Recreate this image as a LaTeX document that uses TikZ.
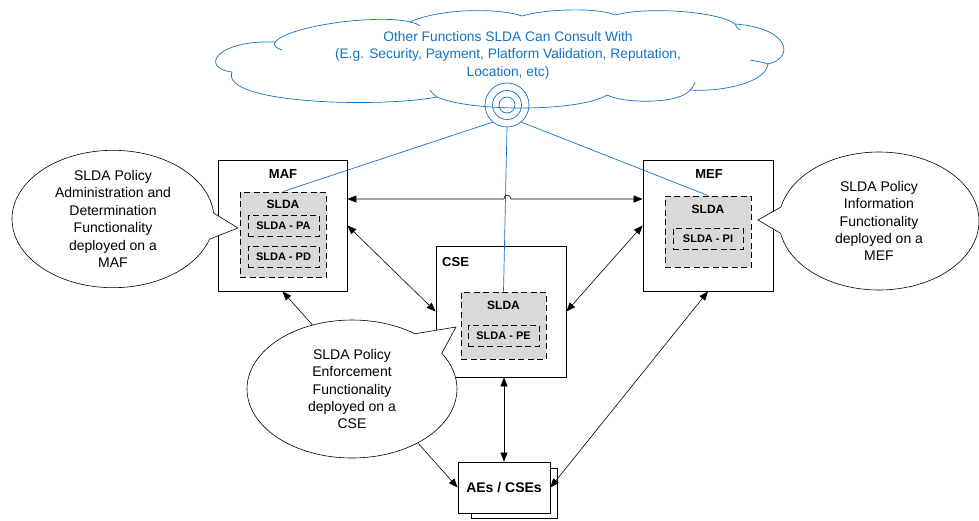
\documentclass[tikz,border=0pt]{standalone}
\usepackage{fontspec}
\setmainfont{Liberation Sans}
\usetikzlibrary{arrows.meta,shapes.callouts,calc}
\definecolor{bluec}{RGB}{20,114,196}
\definecolor{sldagray}{RGB}{217,217,217}
\begin{document}
\begin{tikzpicture}[x=1pt,y=-1pt,
  box/.style={draw, fill=white, line width=0.8pt, inner sep=0pt},
  sldabox/.style={draw, fill=sldagray, line width=0.9pt, dash pattern=on 6pt off 3.5pt, inner sep=0pt},
  lbl/.style={font=\fontsize{13}{15}\bfseries\selectfont, inner sep=0pt},
  slbl/.style={font=\fontsize{12}{14}\bfseries\selectfont, inner sep=0pt},
  sublbl/.style={font=\fontsize{11}{12}\bfseries\selectfont},
  conn/.style={{Triangle[length=9pt,width=7pt]}-{Triangle[length=9pt,width=7pt]}, line width=0.6pt},
  bl/.style={draw=bluec, line width=0.7pt},
  callout/.style={ellipse callout, draw, fill=white, line width=0.6pt, align=center,
    inner sep=0pt, callout pointer arc=22, font=\fontsize{14}{17.4}\selectfont},
  ring/.style={circle, draw=bluec, line width=0.7pt, inner sep=0pt}
]
\useasboundingbox (0,0) rectangle (979,520);

% cloud
\draw[bl] (232,72) .. controls (200,68) and (215,40) .. (275,42)
  .. controls (290,25) and (380,14) .. (410,22)
  .. controls (440,8) and (500,8) .. (522,16)
  .. controls (550,8) and (600,8) .. (615,15)
  .. controls (650,6) and (720,12) .. (735,24)
  .. controls (790,28) and (795,58) .. (768,64)
  .. controls (765,85) and (715,92) .. (690,90)
  .. controls (680,104) and (625,104) .. (607,95)
  .. controls (580,112) and (470,112) .. (437,97)
  .. controls (380,108) and (220,104) .. (232,72) -- cycle;
\draw[bl] (275,42) .. controls (273,45) and (276,48) .. (282,50);
\draw[bl] (410,22) .. controls (415,23) and (418,24) .. (420,26);
\draw[bl] (735,24) .. controls (736,27) and (738,29) .. (740,30);
\draw[bl] (768,64) .. controls (762,62) and (755,61) .. (750,60);
\draw[bl] (690,90) .. controls (693,87) and (695,84) .. (695,82);
\draw[bl] (437,97) .. controls (433,94) and (431,92) .. (430,90);
\node[text=bluec, align=center, font=\fontsize{13.8}{17.5}\selectfont] (cloudtxt) at (508,55)
  {Other Functions SLDA Can Consult With\\(E.g. Security, Payment, Platform Validation, Reputation,\\Location, etc)};
\node[ring, minimum size=44pt] (t) at (507,105) {};
\node[ring, minimum size=29pt] (t2) at (507,105) {};
\node[ring, minimum size=16pt] (t3) at (507,105) {};

% main boxes
\node[box, minimum width=129pt, minimum height=131pt] (maf) at (282.5,225.5) {};
\node[box, minimum width=130pt, minimum height=131pt] (mef) at (708,225.5) {};
\node[box, minimum width=130pt, minimum height=131pt] (cse) at (501,311.5) {};

\node[lbl] (maflbl) at (283,174) {MAF};
\node[lbl] (meflbl) at (709,174) {MEF};
\node[lbl, anchor=west] (cselbl) at (442,262) {CSE};

% SLDA boxes
\node[sldabox, minimum width=86pt, minimum height=85pt] (mafslda) at (283,234.5) {};
\node[slbl] (mafsldalbl) at (283,204) {SLDA};
\node[sldabox, minimum width=71pt, minimum height=21pt] (pa) at (283.5,225.5) {};
\node[sublbl] (palbl) at (283.5,225.5) {SLDA - PA};
\node[sldabox, minimum width=71pt, minimum height=21pt] (pd) at (283.5,256.5) {};
\node[sublbl] (pdlbl) at (283.5,256.5) {SLDA - PD};

\node[sldabox, minimum width=85pt, minimum height=67pt] (cseslda) at (503.5,325.5) {};
\node[slbl] (csesldalbl) at (503.5,305) {SLDA};
\node[sldabox, minimum width=71pt, minimum height=21pt] (pe) at (503.5,335.5) {};
\node[sublbl] (pelbl) at (503.5,335.5) {SLDA - PE};

\node[sldabox, minimum width=86pt, minimum height=71pt] (mefslda) at (708,231.5) {};
\node[slbl] (mefsldalbl) at (708,209) {SLDA};
\node[sldabox, minimum width=70pt, minimum height=21pt] (pi) at (708,238.5) {};
\node[sublbl] (pilbl) at (708,238.5) {SLDA - PI};

% AEs / CSEs
\node[box, minimum width=86pt, minimum height=50pt] (aesback) at (514,493) {};
\node[box, minimum width=92pt, minimum height=51pt, font=\fontsize{14}{15}\bfseries\selectfont] (aes) at (504,487.5) {AEs / CSEs};

% blue links
\draw[bl] (t.-130) -- (mafslda.north);
\draw[bl] (t.-50) -- (mefslda.north);
\draw[bl] (t.south) -- (cseslda.north);

% arrows
\draw[conn] ($(maf.east)+(0,-26.5)$) -- ($(maf.east)+(156.5,-26.5)$)
  .. controls +(0,-5) and +(0,-5) .. ($(maf.east)+(163.5,-26.5)$) -- ($(mef.west)+(0,-26.5)$);
\draw[conn] (maf.east) -- (cse.west);
\draw[conn] (mef.west) -- (cse.east);
\draw[conn] (aes.north |- cse.south) -- (aes.north);
\draw[conn] (mef.south) -- (aes.east);
\draw[conn] (maf.south) -- (aes.west);

% callouts
\node[callout, minimum width=202pt, minimum height=132pt, callout absolute pointer={(238,228)}] (cmaf) at (113,219)
  {SLDA Policy\\Administration and\\Determination\\Functionality\\deployed on a\\MAF};
\node[callout, minimum width=200pt, minimum height=138pt, callout absolute pointer={(758,220)}] (cmef) at (879,221)
  {SLDA Policy\\Information\\Functionality\\deployed on a\\MEF};
\node[callout, minimum width=210pt, minimum height=138pt, callout absolute pointer={(456,327)}] (ccse) at (352,389)
  {SLDA Policy\\Enforcement\\Functionality\\deployed on a\\CSE};
\end{tikzpicture}
\end{document}
